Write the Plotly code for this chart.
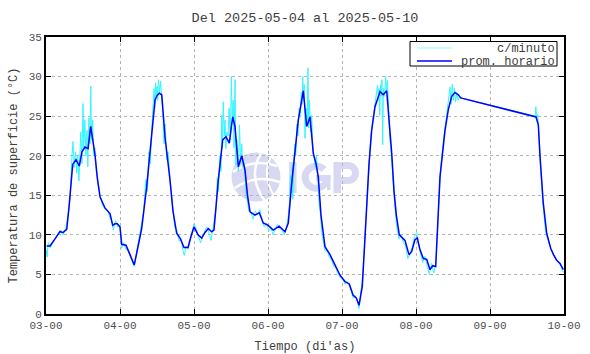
import base64
import plotly.graph_objects as go

# ---------------- data ----------------
title_text = "Del 2025-05-04 al 2025-05-10"
tick_days = [3, 4, 5, 6, 7, 8, 9, 10]
tick_labels = ["03-00", "04-00", "05-00", "06-00", "07-00", "08-00", "09-00", "10-00"]

# hourly mean (prom. horario): day position, temperature (°C)
hourly_day = [3.009, 3.054, 3.122, 3.189, 3.230, 3.280, 3.311, 3.361, 3.405, 3.450, 3.486, 3.527,
              3.568, 3.604, 3.635, 3.662, 3.696, 3.730, 3.797, 3.865, 3.901, 3.932, 3.964, 4.000,
              4.023, 4.081, 4.135, 4.193, 4.243, 4.293, 4.361, 4.405, 4.473, 4.500, 4.531, 4.564,
              4.608, 4.676, 4.716, 4.766, 4.811, 4.865, 4.919, 4.959, 5.000, 5.054, 5.104, 5.149,
              5.193, 5.239, 5.270, 5.297, 5.328, 5.388, 5.432, 5.477, 5.523, 5.554, 5.599, 5.645,
              5.689, 5.723, 5.757, 5.824, 5.882, 5.936, 6.003, 6.071, 6.151, 6.230, 6.274, 6.320,
              6.365, 6.409, 6.446, 6.477, 6.523, 6.568, 6.612, 6.649, 6.680, 6.716, 6.770, 6.838,
              6.905, 6.973, 7.041, 7.099, 7.149, 7.195, 7.230, 7.274, 7.304, 7.334, 7.365, 7.401,
              7.446, 7.514, 7.558, 7.604, 7.635, 7.672, 7.703, 7.734, 7.774, 7.851, 7.905, 7.942,
              7.986, 8.018, 8.054, 8.099, 8.145, 8.189, 8.226, 8.266, 8.297, 8.324, 8.392, 8.436,
              8.482, 8.527, 8.572, 8.604, 9.622, 9.653, 9.676, 9.699, 9.720, 9.766, 9.820, 9.858,
              9.901, 9.946, 9.991]
hourly_temp = [8.6, 8.6, 9.5, 10.4, 10.3, 10.7, 13.5, 18.9, 19.5, 18.7, 20.5, 21.1,
               20.9, 23.7, 21.8, 20.1, 17.0, 14.8, 13.4, 12.7, 11.2, 11.4, 11.4, 11.0,
               8.8, 8.7, 7.5, 6.2, 8.5, 10.8, 16.1, 20.5, 27.0, 27.6, 27.9, 27.7,
               22.4, 16.9, 13.0, 10.2, 9.6, 8.4, 8.4, 9.8, 11.0, 10.0, 9.6, 10.3,
               10.8, 10.4, 10.6, 13.5, 16.9, 22.0, 22.4, 21.6, 24.9, 23.7, 18.6, 20.0,
               18.2, 15.0, 12.9, 12.5, 12.8, 11.5, 11.2, 10.6, 11.1, 10.4, 11.5, 16.5,
               20.5, 24.5, 26.5, 28.2, 23.7, 24.9, 20.3, 19.0, 17.3, 12.5, 8.5, 7.5,
               6.2, 4.9, 4.1, 3.8, 2.4, 2.0, 1.1, 3.5, 8.5, 14.0, 19.0, 23.2,
               26.2, 28.1, 27.7, 28.2, 25.0, 20.3, 15.5, 12.5, 10.0, 9.3, 7.5, 7.9,
               9.4, 9.6, 8.1, 7.0, 6.9, 5.6, 6.1, 6.0, 12.0, 17.3, 23.2, 25.8,
               27.5, 28.0, 27.7, 27.3, 24.9, 23.9, 19.9, 17.0, 14.0, 10.2, 8.3, 7.5,
               6.8, 6.4, 5.6]

# per-minute readings (c/minuto)
minute_day = [3.000, 3.015, 3.030, 3.060, 3.100, 3.140, 3.190, 3.230, 3.270, 3.300, 3.330, 3.350,
              3.365, 3.380, 3.400, 3.415, 3.430, 3.445, 3.460, 3.470, 3.485, 3.500, 3.510, 3.525,
              3.540, 3.555, 3.565, 3.580, 3.595, 3.605, 3.615, 3.630, 3.645, 3.660, 3.680, 3.700,
              3.730, 3.760, 3.800, 3.840, 3.870, 3.890, 3.910, 3.940, 3.970, 4.000, 4.020, 4.050,
              4.080, 4.110, 4.140, 4.170, 4.190, 4.220, 4.250, 4.290, 4.320, 4.350, 4.370, 4.390,
              4.410, 4.430, 4.445, 4.460, 4.470, 4.480, 4.490, 4.500, 4.510, 4.520, 4.535, 4.550,
              4.565, 4.580, 4.595, 4.610, 4.630, 4.650, 4.680, 4.710, 4.740, 4.770, 4.800, 4.830,
              4.850, 4.870, 4.890, 4.920, 4.950, 4.980, 5.000, 5.030, 5.060, 5.090, 5.120, 5.150,
              5.180, 5.210, 5.230, 5.260, 5.280, 5.300, 5.315, 5.330, 5.350, 5.365, 5.375, 5.385,
              5.395, 5.410, 5.420, 5.430, 5.445, 5.460, 5.475, 5.490, 5.505, 5.515, 5.530, 5.540,
              5.555, 5.565, 5.580, 5.600, 5.615, 5.630, 5.645, 5.660, 5.680, 5.700, 5.720, 5.740,
              5.770, 5.800, 5.830, 5.860, 5.890, 5.920, 5.950, 5.980, 6.010, 6.040, 6.070, 6.100,
              6.130, 6.160, 6.190, 6.220, 6.250, 6.270, 6.290, 6.305, 6.315, 6.330, 6.335, 6.360,
              6.375, 6.390, 6.405, 6.420, 6.435, 6.450, 6.460, 6.470, 6.480, 6.490, 6.500, 6.515,
              6.530, 6.540, 6.550, 6.560, 6.575, 6.590, 6.605, 6.620, 6.640, 6.655, 6.670, 6.690,
              6.710, 6.730, 6.750, 6.770, 6.800, 6.830, 6.860, 6.890, 6.920, 6.950, 6.980, 7.010,
              7.040, 7.070, 7.100, 7.130, 7.150, 7.180, 7.210, 7.230, 7.250, 7.270, 7.290, 7.310,
              7.330, 7.350, 7.370, 7.390, 7.410, 7.430, 7.450, 7.465, 7.480, 7.490, 7.500, 7.510,
              7.520, 7.530, 7.540, 7.550, 7.560, 7.575, 7.590, 7.600, 7.615, 7.630, 7.645, 7.660,
              7.680, 7.700, 7.720, 7.740, 7.770, 7.800, 7.830, 7.860, 7.890, 7.920, 7.950, 7.980,
              8.010, 8.030, 8.060, 8.090, 8.120, 8.150, 8.180, 8.210, 8.240, 8.270, 8.290, 8.310,
              8.330, 8.360, 8.390, 8.420, 8.440, 8.460, 8.475, 8.490, 8.505, 8.520, 8.535, 8.550,
              8.570, 8.590, 8.605, 9.610, 9.620, 9.630, 9.645, 9.660, 9.675, 9.690, 9.710, 9.730,
              9.750, 9.770, 9.800, 9.830, 9.860, 9.890, 9.920, 9.950, 9.980, 10.000]
minute_temp = [8.2, 7.2, 9.0, 8.4, 9.2, 9.9, 10.6, 10.0, 10.9, 12.5, 15.0, 19.8,
               21.8, 18.5, 20.5, 17.8, 20.0, 16.8, 19.5, 23.0, 19.0, 26.6, 21.0, 24.5,
               20.0, 23.2, 18.6, 24.8, 21.5, 28.8, 22.0, 24.5, 20.0, 21.0, 18.0, 16.5,
               15.0, 13.8, 13.2, 12.9, 12.0, 11.8, 10.6, 11.8, 11.0, 11.2, 8.3, 9.0,
               8.2, 8.0, 7.3, 6.7, 6.0, 7.5, 9.0, 11.0, 13.0, 17.0, 15.5, 20.5,
               19.0, 23.5, 26.5, 28.5, 26.0, 29.2, 27.5, 28.8, 27.0, 29.6, 28.0, 29.4,
               27.0, 25.5, 21.5, 24.0, 19.5, 20.5, 16.5, 13.5, 11.0, 10.5, 9.2, 9.5,
               8.0, 7.4, 8.6, 8.2, 9.6, 10.6, 11.4, 10.8, 9.8, 9.0, 9.9, 10.6,
               11.0, 10.0, 9.3, 11.0, 12.5, 13.5, 17.2, 15.5, 20.0, 18.0, 25.1, 21.0,
               26.8, 22.5, 24.5, 20.9, 23.0, 22.5, 26.0, 22.0, 30.0, 25.0, 27.0, 21.0,
               29.6, 18.8, 22.0, 18.0, 23.9, 19.0, 21.5, 18.5, 19.0, 15.5, 14.5, 13.0,
               12.8, 12.0, 13.0, 12.5, 13.2, 11.8, 11.0, 11.5, 10.5, 10.9, 10.0, 10.8,
               11.3, 10.8, 10.6, 10.0, 10.8, 12.0, 14.0, 17.5, 15.7, 19.0, 14.5, 21.5,
               20.0, 24.0, 22.5, 26.0, 25.0, 28.0, 26.5, 30.0, 27.0, 29.0, 22.2, 26.0,
               24.0, 31.1, 23.5, 27.0, 23.0, 25.1, 21.0, 20.0, 18.5, 20.0, 16.5, 14.0,
               12.5, 10.0, 9.0, 8.0, 8.0, 7.2, 6.8, 6.0, 5.8, 5.0, 4.6, 4.4,
               3.8, 4.1, 3.5, 2.8, 2.0, 2.3, 1.6, 0.7, 2.5, 3.8, 6.5, 10.0,
               13.5, 17.0, 20.5, 22.5, 24.0, 25.5, 26.8, 27.5, 28.9, 27.0, 28.5, 25.1,
               29.0, 27.5, 29.6, 21.4, 28.5, 27.5, 30.0, 28.0, 29.5, 26.0, 22.2, 21.0,
               18.0, 15.0, 13.0, 11.0, 9.5, 10.0, 9.0, 8.6, 7.0, 7.6, 8.5, 9.8,
               10.3, 9.0, 7.6, 6.5, 7.3, 6.3, 5.0, 6.4, 5.2, 6.5, 11.0, 14.5,
               18.0, 21.0, 23.5, 25.5, 27.0, 28.7, 26.5, 29.0, 27.0, 28.5, 26.8, 27.8,
               27.0, 27.5, 27.3, 25.0, 26.2, 24.5, 25.2, 22.5, 19.0, 17.5, 14.5, 12.5,
               10.5, 9.8, 8.8, 8.0, 7.5, 6.9, 6.6, 6.2, 5.5, 5.2]

series_names = ["c/minuto", "prom. horario"]
series_colors = ["#33f5ff", "#0000ff"]
legend_colors = ["#b0ffff", "#0000ff"]

# ---------------- figure ----------------
MONO = "Liberation Mono, Courier New, monospace"
W, H = 590, 354
L, R, T, B = 46, 26, 37, 40
pw, ph = W - L - R, H - T - B


def px_x(x):  # pixel -> paper x
    return (x - L) / pw


def px_y(y):  # pixel -> paper y
    return (H - B - y) / ph


fig = go.Figure()
fig.add_trace(go.Scatter(x=minute_day, y=minute_temp, mode="lines", name=series_names[0],
                         line=dict(color=series_colors[0], width=1), showlegend=False))
fig.add_trace(go.Scatter(x=hourly_day, y=hourly_temp, mode="lines", name=series_names[1],
                         line=dict(color=series_colors[1], width=1.5), showlegend=False))

# IGP watermark logo (behind the data), letters drawn as vector shapes
LOGO = "#d8d8f2"
svg = f"""<svg xmlns='http://www.w3.org/2000/svg' width='130' height='52' viewBox='0 0 130 52'>
<circle cx='25' cy='26' r='24.5' fill='{LOGO}'/>
<path d='M2 21 Q22 7 46 15' stroke='white' stroke-width='2.5' fill='none'/>
<path d='M4 37 Q24 23 49 31' stroke='white' stroke-width='2.5' fill='none'/>
<path d='M30 2 Q16 26 34 50' stroke='white' stroke-width='2.5' fill='none'/>
<path d='M40 5 Q30 26 44 46' stroke='white' stroke-width='2' fill='none'/>
<rect x='58' y='11' width='7.5' height='31' fill='{LOGO}'/>
<path d='M93 18.5 A11 11 0 1 0 96 28' stroke='{LOGO}' stroke-width='7' fill='none'/>
<rect x='85' y='24' width='14.5' height='6' fill='{LOGO}'/>
<rect x='96' y='24' width='3.5' height='15' fill='{LOGO}'/>
<rect x='102.5' y='11' width='7.5' height='31' fill='{LOGO}'/>
<path d='M106 14.5 H117 A7.5 7.5 0 0 1 117 29.5 H106' stroke='{LOGO}' stroke-width='7' fill='none'/>
</svg>"""
src = "data:image/svg+xml;base64," + base64.b64encode(svg.encode()).decode()
fig.add_layout_image(dict(source=src, xref="paper", yref="paper",
                          x=px_x(231), y=px_y(151),
                          sizex=130 / pw, sizey=52 / ph, sizing="stretch",
                          xanchor="left", yanchor="top", layer="below"))

# hand-drawn legend box (top right, inside the plot)
shapes = [dict(type="rect", xref="paper", yref="paper", x0=px_x(410), x1=px_x(557),
               y0=px_y(66), y1=px_y(41.5), line=dict(color="black", width=1),
               fillcolor="white", layer="above")]
annotations = []
for i, (nm, col) in enumerate(zip(series_names, legend_colors)):
    yy = 48 + 13 * i
    shapes.append(dict(type="line", xref="paper", yref="paper", x0=px_x(417), x1=px_x(452),
                       y0=px_y(yy), y1=px_y(yy), line=dict(color=col, width=1.3), layer="above"))
    annotations.append(dict(text=nm, xref="paper", yref="paper", x=px_x(556.5), y=px_y(yy + 0.5),
                            xanchor="right", yanchor="middle", showarrow=False,
                            font=dict(family=MONO, size=12, color="#404040")))

axis_common = dict(showline=True, linecolor="black", linewidth=1.8, mirror="ticks",
                   ticks="inside", ticklen=5, tickcolor="black", tickwidth=1,
                   showgrid=True, gridcolor="#b4b4b4", griddash="dot", gridwidth=1,
                   zeroline=False, automargin=False,
                   tickfont=dict(family=MONO, size=11, color="#505050"))

fig.update_xaxes(range=[3, 10], tickvals=tick_days, ticktext=tick_labels,
                 title=dict(text="Tiempo (di'as)", font=dict(family=MONO, size=12, color="#404040"),
                            standoff=11),
                 **axis_common)
fig.update_yaxes(range=[0, 35], dtick=5,
                 title=dict(text="Temperatura de superficie (°C)",
                            font=dict(family=MONO, size=12, color="#404040"), standoff=8),
                 **axis_common)

fig.update_layout(
    width=W, height=H,
    margin=dict(l=L, r=R, t=T, b=B),
    paper_bgcolor="white", plot_bgcolor="white",
    title=dict(text=title_text, x=0.5, xref="paper", xanchor="center", y=1 - 17 / H, yanchor="middle",
               font=dict(family=MONO, size=13.5, color="#404040")),
    shapes=shapes, annotations=annotations,
    showlegend=False,
)

fig.write_html("out.html")
